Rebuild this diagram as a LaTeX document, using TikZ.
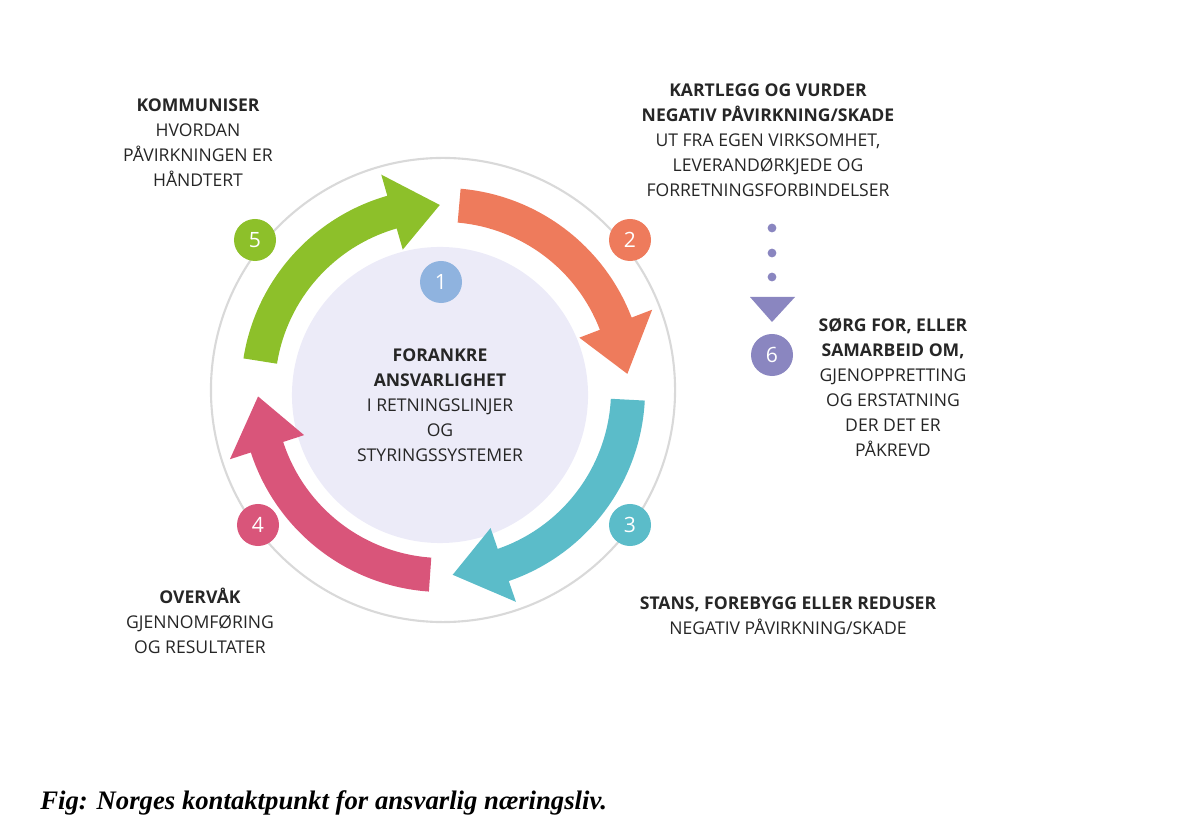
\documentclass[tikz,border=0pt]{standalone}
\usetikzlibrary{calc}
\usepackage{fontspec}
\setmainfont{Open Sans}
\newfontfamily\capfont{Liberation Serif}
\begin{document}
\begin{tikzpicture}[x=0.025cm,y=0.025cm,
  txt/.style={align=center,font=\fontsize{12.5}{17.8}\selectfont,text=black!85,inner sep=0},
  num/.style={circle,minimum size=1.05cm,inner sep=0,text=white,font=\fontsize{15}{15}\selectfont}]
\definecolor{cg}{HTML}{8DC02A}\definecolor{co}{HTML}{EE7B5C}
\definecolor{ct}{HTML}{5BBCC9}\definecolor{cp}{HTML}{D9557A}
\definecolor{cb}{HTML}{8FB3DF}\definecolor{cv}{HTML}{8A86C0}
\definecolor{cin}{HTML}{ECEBF8}
\useasboundingbox (0,0) rectangle (1200,829);
\coordinate (c) at (443,439);
\draw[black!15,line width=1.5pt] (c) circle[radius=5.8cm];
\fill[cin] (440,434) circle[radius=3.7cm];
\newcommand\cycarr[4]{%
 \fill[#1] ($(c)+(#2:5.05cm)$) arc[start angle=#2,end angle=#3,radius=5.05cm]
  -- ($(c)+(#3:5.6cm)$) -- ($(c)+(#4:4.625cm)$) -- ($(c)+(#3:3.65cm)$)
  -- ($(c)+(#3:4.2cm)$) arc[start angle=#3,end angle=#2,radius=4.2cm] -- cycle;}
\cycarr{cg}{171}{106}{91}
\cycarr{co}{85}{21}{5}
\cycarr{ct}{-3}{-71}{-87}
\cycarr{cp}{-94}{-162}{-178}
\node[num,fill=cb] (n1) at (441,547) {1};
\node[num,fill=co] (n2) at (630,589) {2};
\node[num,fill=ct] (n3) at (630,304) {3};
\node[num,fill=cp] (n4) at (258,304) {4};
\node[num,fill=cg] (n5) at (255,589) {5};
\node[num,fill=cv] (n6) at (772,474) {6};
\foreach \y [count=\i] in {601,576,552}
  \fill[cv] (772,\y) circle[radius=0.11cm] coordinate (d\i);
\fill[cv] (750,532) -- (795,532) -- (772,507) -- cycle;
\node[txt,anchor=north] (t5) at (198,731) {\textbf{KOMMUNISER}\\HVORDAN\\PÅVIRKNINGEN ER\\HÅNDTERT};
\node[txt,anchor=north] (t2) at (768,746) {\textbf{KARTLEGG OG VURDER}\\\textbf{NEGATIV PÅVIRKNING/SKADE}\\UT FRA EGEN VIRKSOMHET,\\LEVERANDØRKJEDE OG\\FORRETNINGSFORBINDELSER};
\node[txt] (t1) at (440,424) {\textbf{FORANKRE}\\\textbf{ANSVARLIGHET}\\I RETNINGSLINJER\\OG\\STYRINGSSYSTEMER};
\node[txt,anchor=north] (t6) at (893,511) {\textbf{SØRG FOR, ELLER}\\\textbf{SAMARBEID OM,}\\GJENOPPRETTING\\OG ERSTATNING\\DER DET ER\\PÅKREVD};
\node[txt,anchor=north] (t3) at (788,233) {\textbf{STANS, FOREBYGG ELLER REDUSER}\\NEGATIV PÅVIRKNING/SKADE};
\node[txt,anchor=north] (t4) at (200,241) {\textbf{OVERVÅK}\\GJENNOMFØRING\\OG RESULTATER};
\node[anchor=west,inner sep=0,font=\capfont\bfseries\itshape\fontsize{19}{19}\selectfont] (cap) at (40,26) {Fig: Norges kontaktpunkt for ansvarlig næringsliv.};
\end{tikzpicture}
\end{document}
